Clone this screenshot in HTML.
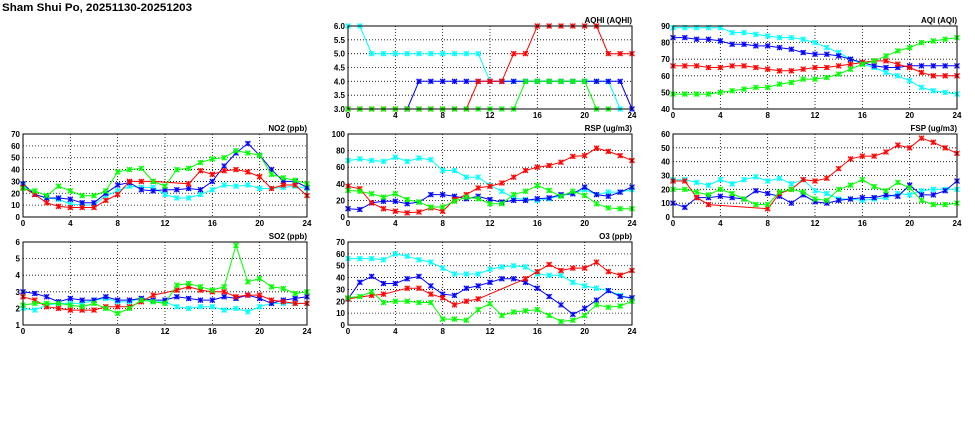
<!DOCTYPE html>
<html><head><meta charset="utf-8"><style>
html,body{margin:0;padding:0;background:#fff;width:975px;height:447px;overflow:hidden}
svg{display:block}
text{font-family:"Liberation Sans",sans-serif;font-weight:bold;fill:#000}
</style></head><body>
<svg id="chart" width="975" height="447" viewBox="0 0 975 447" xmlns="http://www.w3.org/2000/svg">
<text x="2" y="11" font-size="11" font-weight="normal" textLength="190" lengthAdjust="spacingAndGlyphs">Sham Shui Po, 20251130-20251203</text>
</svg>
<script>
var N = null;
var hours = [0,1,2,3,4,5,6,7,8,9,10,11,12,13,14,15,16,17,18,19,20,21,22,23,24];
var xTicks = [0,4,8,12,16,20,24];
var seriesColors = ['#00ffff','#0000ff','#ff0000','#00ff00'];

var aqhiCyan  = [6,6,5,5,5,5,5,5,5,5,5,5,4,4,4,4,4,4,4,4,4,4,4,3,N];
var aqhiBlue  = [N,N,N,N,N,3,4,4,4,4,4,4,4,4,4,4,4,4,4,4,4,4,4,4,3];
var aqhiRed   = [3,3,3,3,3,3,3,3,3,3,3,4,4,4,5,5,6,6,6,6,6,6,5,5,5];
var aqhiGreen = [3,3,3,3,3,3,3,3,3,3,3,3,3,3,3,4,4,4,4,4,4,3,3,N,N];
var aqhiTicks = [3.0,3.5,4.0,4.5,5.0,5.5,6.0];

var aqiCyan  = [89,89,89,89,89,86,86,85,84,83,83,82,80,77,74,70,67,65,62,60,57,53,51,50,49];
var aqiBlue  = [83,83,82,82,81,79,79,78,78,77,76,74,73,73,72,70,68,66,65,65,66,66,66,66,66];
var aqiRed   = [66,66,66,65,65,66,66,65,64,63,63,64,65,65,66,67,68,69,69,67,65,62,60,60,60];
var aqiGreen = [49,49,49,49,50,51,52,53,53,55,56,58,58,59,61,64,67,69,72,75,77,80,81,82,83];
var aqiTicks = [40,50,60,70,80,90];

var no2Cyan  = [27,19,16,15,11,10,10,18,22,26,25,25,19,16,16,19,23,27,26,27,24,24,25,26,24];
var no2Blue  = [28,19,16,16,15,12,12,20,27,29,23,22,23,23,24,23,30,43,54,62,52,40,30,30,25];
var no2Red   = [25,19,12,9,8,8,8,14,19,30,30,30,N,N,28,39,36,39,40,38,34,24,27,27,18];
var no2Green = [24,22,18,26,22,18,18,22,38,40,41,30,26,40,41,46,49,50,56,54,52,36,33,31,28];
var no2Ticks = [0,10,20,30,40,50,60,70];

var rspCyan  = [68,70,68,67,72,67,71,69,56,56,48,48,38,31,23,21,20,22,26,28,33,27,30,30,33];
var rspBlue  = [10,9,17,19,19,16,18,27,27,25,22,25,21,18,20,20,22,23,27,28,36,27,25,30,36];
var rspRed   = [37,34,17,10,7,5,6,11,7,21,27,35,37,41,48,56,60,62,66,73,74,83,79,74,68];
var rspGreen = [32,31,28,24,28,21,18,12,12,19,24,22,16,16,27,31,38,32,25,31,26,16,11,10,10];
var rspTicks = [0,20,40,60,80,100];

var fspCyan  = [27,27,25,23,27,24,27,29,26,28,24,27,19,17,13,13,12,13,14,17,16,19,20,20,20];
var fspBlue  = [10,7,14,14,15,14,13,19,17,15,10,16,11,10,12,13,14,14,16,15,23,16,16,19,26];
var fspRed   = [26,26,14,9,N,N,N,N,6,17,20,27,26,28,35,42,44,44,47,52,50,57,54,50,46];
var fspGreen = [20,20,18,16,20,17,13,9,9,18,20,18,13,12,20,23,27,22,19,25,21,12,9,9,10];
var fspTicks = [0,10,20,30,40,50,60];

var so2Cyan  = [2.0,1.9,2.2,2.3,2.3,2.3,2.5,2.6,2.4,2.4,2.6,2.4,2.4,2.1,2.0,2.1,2.1,1.9,2.0,1.8,2.1,2.3,2.3,2.3,2.3];
var so2Blue  = [3.0,2.9,2.7,2.4,2.6,2.5,2.5,2.7,2.5,2.5,2.6,2.5,2.5,2.7,2.6,2.5,2.5,2.7,2.6,2.8,2.6,2.3,2.5,2.6,2.7];
var so2Red   = [2.7,2.5,2.1,2.0,1.9,1.9,1.9,2.1,2.1,2.1,2.4,2.8,N,3.1,3.3,3.1,3.0,3.0,2.7,2.8,2.8,2.5,2.4,2.3,2.3];
var so2Green = [2.2,2.3,2.3,2.3,2.2,2.1,2.3,2.0,1.7,2.0,2.5,2.4,2.3,3.4,3.5,3.3,3.1,3.3,5.8,3.6,3.8,3.3,3.2,2.9,3.0];
var so2Ticks = [1,2,3,4,5,6];

var o3Cyan  = [56,56,56,55,60,58,55,53,48,43,43,43,47,49,50,49,43,42,42,36,33,31,29,25,22];
var o3Blue  = [22,36,41,35,35,39,41,33,26,25,31,33,36,39,39,36,31,24,17,9,14,21,29,24,23];
var o3Red   = [22,N,25,26,N,31,31,26,23,17,20,22,N,N,N,39,45,51,46,48,48,53,45,42,46];
var o3Green = [23,24,28,19,20,20,19,19,5,5,4,13,18,8,11,12,13,8,3,4,8,17,15,16,20];
var o3Ticks = [0,10,20,30,40,50,60,70];

var panels = [
 {name:'aqhi', title:'AQHI (AQHI)', x0:348, y0:26, ticks:aqhiTicks, dec:1, s:[aqhiCyan,aqhiBlue,aqhiRed,aqhiGreen]},
 {name:'aqi', title:'AQI (AQI)', x0:673, y0:26, ticks:aqiTicks, dec:0, s:[aqiCyan,aqiBlue,aqiRed,aqiGreen]},
 {name:'no2', title:'NO2 (ppb)', x0:23, y0:134, ticks:no2Ticks, dec:0, s:[no2Cyan,no2Blue,no2Red,no2Green]},
 {name:'rsp', title:'RSP (ug/m3)', x0:348, y0:134, ticks:rspTicks, dec:0, s:[rspCyan,rspBlue,rspRed,rspGreen]},
 {name:'fsp', title:'FSP (ug/m3)', x0:673, y0:134, ticks:fspTicks, dec:0, s:[fspCyan,fspBlue,fspRed,fspGreen]},
 {name:'so2', title:'SO2 (ppb)', x0:23, y0:242, ticks:so2Ticks, dec:0, s:[so2Cyan,so2Blue,so2Red,so2Green]},
 {name:'o3', title:'O3 (ppb)', x0:348, y0:242, ticks:o3Ticks, dec:0, s:[o3Cyan,o3Blue,o3Red,o3Green]}
];
var W = 284, H = 83;
var NS = 'http://www.w3.org/2000/svg';
var svg = document.getElementById('chart');
function mk(tag, attrs, parent){
  var e = document.createElementNS(NS, tag);
  for (var k in attrs) e.setAttribute(k, attrs[k]);
  parent.appendChild(e); return e;
}
var seriesNames = ['cyan','blue','red','green'];
panels.forEach(function(p){
  var g = mk('g', {}, svg);
  
  
  var ymin = p.ticks[0], ymax = p.ticks[p.ticks.length-1];
  var xs = function(v){ return p.x0 + v/24*W; };
  var ys = function(v){ return p.y0 + H - (v-ymin)/(ymax-ymin)*H; };
  p.ticks.forEach(function(t, i){
    if (i>0 && i<p.ticks.length-1) {
      var l = mk('line', {x1:p.x0, x2:p.x0+W, y1:ys(t), y2:ys(t), stroke:'#000', 'stroke-width':0.8, 'stroke-dasharray':'1,2'}, g);
      
      
    }
    var tx = mk('text', {x:p.x0-3, y:ys(t)+3, 'font-size':8, 'text-anchor':'end'}, g);
    
    
    tx.textContent = p.dec ? t.toFixed(1) : String(t);
  });
  xTicks.forEach(function(t, i){
    if (i>0 && i<xTicks.length-1) {
      var l = mk('line', {x1:xs(t), x2:xs(t), y1:p.y0, y2:p.y0+H, stroke:'#000', 'stroke-width':0.8, 'stroke-dasharray':'1,2'}, g);
      
      
    }
    var tx = mk('text', {x:xs(t), y:p.y0+H+9, 'font-size':8, 'text-anchor':'middle'}, g);
    
    
    tx.textContent = String(t);
  });
  var ttl = mk('text', {x:p.x0+W, y:p.y0-3, 'font-size':8, 'text-anchor':'end'}, g);
  
  
  ttl.textContent = p.title;
  var clip = mk('clipPath', {id:'clip-'+p.name}, g);
  mk('rect', {x:p.x0-4, y:p.y0-4, width:W+8, height:H+8}, clip);
  var sg = mk('g', {'clip-path':'url(#clip-'+p.name+')'}, g);
  p.s.forEach(function(vals, si){
    var c = seriesColors[si];
    var pts = [];
    vals.forEach(function(v, i){ if (v !== null) pts.push([xs(hours[i]), ys(v)]); });
    var pl = mk('polyline', {points:pts.map(function(q){return q[0].toFixed(1)+','+q[1].toFixed(1);}).join(' '), fill:'none', stroke:c, 'stroke-width':1}, sg);
    
    
    pts.forEach(function(q){
      var m = mk('g', {}, sg);
      
      
      var r = 2.5;
      mk('rect', {x:q[0]-r, y:q[1]-r, width:2*r, height:2*r, fill:c, 'fill-opacity':0.35}, m);
      mk('path', {d:'M'+(q[0]-r)+' '+(q[1]-r)+'L'+(q[0]+r)+' '+(q[1]+r)+'M'+(q[0]+r)+' '+(q[1]-r)+'L'+(q[0]-r)+' '+(q[1]+r)+'M'+q[0]+' '+(q[1]-r)+'V'+(q[1]+r), stroke:c, 'stroke-width':1.1, fill:'none'}, m);
    });
  });
  var fr = mk('rect', {x:p.x0, y:p.y0, width:W, height:H, fill:'none', stroke:'#000', 'stroke-width':1}, g);
  
  
});
</script>
</body></html>
